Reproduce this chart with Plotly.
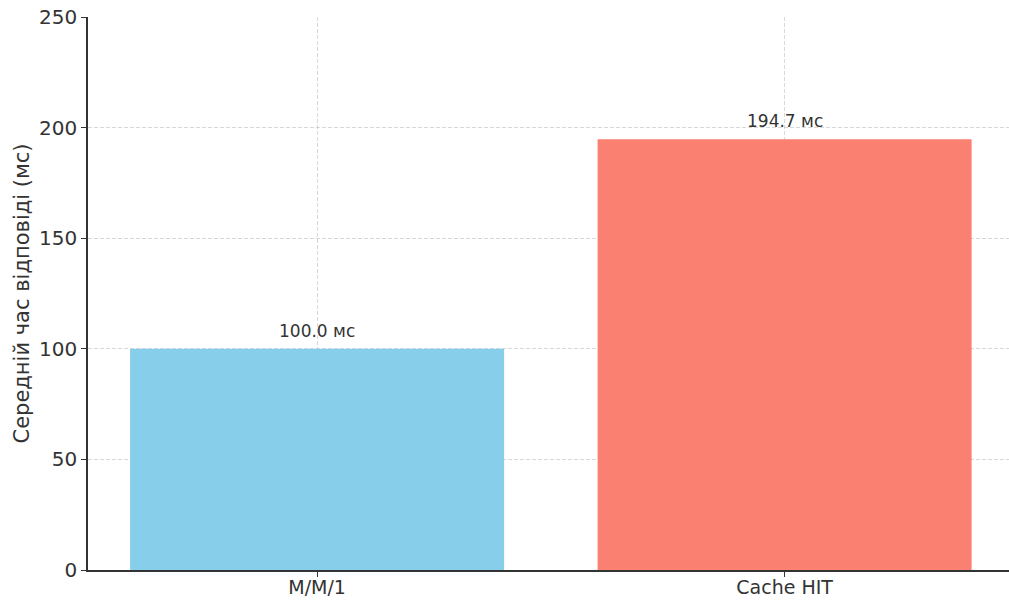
import plotly.graph_objects as go

categories = ["M/M/1", "Cache HIT"]
values = [100.0, 194.7]
colors = ["#87CEEB", "#FA8072"]
y_ticks = [0, 50, 100, 150, 200, 250]
unit = "мс"
y_title = "Середній час відповіді (мс)"

fig = go.Figure()
fig.add_trace(go.Bar(
    x=categories, y=values, marker=dict(color=colors, line=dict(width=0)),
    width=0.8, hoverinfo="skip",
))

for c, v in zip(categories, values):
    fig.add_annotation(
        x=c, y=v, text=f"{v:.1f} {unit}", showarrow=False,
        yanchor="bottom", yshift=6,
        font=dict(family="DejaVu Sans", size=17, color="#333333"),
    )

fig.update_layout(
    width=1009, height=600,
    margin=dict(l=88, r=0, t=17, b=30),
    paper_bgcolor="white", plot_bgcolor="white",
    showlegend=False,
    font=dict(family="DejaVu Sans", color="#333333"),
    bargap=0.2,
)
grid_color = "rgba(190,190,190,0.6)"
fig.update_xaxes(
    range=[-0.49, 1.48], automargin=False,
    showline=True, linecolor="#333333", linewidth=1.5,
    ticks="outside", ticklen=5, tickcolor="#333333", tickwidth=1.2,
    tickfont=dict(size=19, color="#333333"), ticklabelstandoff=-6,
    showgrid=True, gridcolor=grid_color, griddash="4px,2px", gridwidth=1,
    layer="above traces", zeroline=False,
)
fig.update_yaxes(
    range=[0, 250], tickvals=y_ticks, automargin=False,
    showline=True, linecolor="#333333", linewidth=1.5,
    ticks="outside", ticklen=5, tickcolor="#333333", tickwidth=1.2,
    tickfont=dict(size=20, color="#333333"),
    showgrid=True, gridcolor=grid_color, griddash="4px,2px", gridwidth=1,
    layer="above traces", zeroline=False,
    title=dict(text=y_title, font=dict(size=21, color="#333333"), standoff=4),
)

fig.write_html("out.html")
